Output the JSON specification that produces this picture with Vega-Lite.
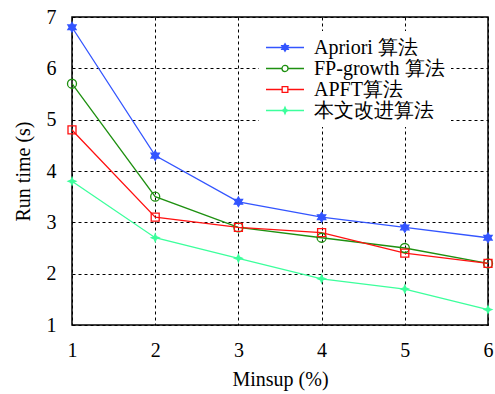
{
  "$schema": "https://vega.github.io/schema/vega-lite/v6.json",
  "width": 416,
  "height": 308,
  "autosize": {"type": "none"},
  "padding": {"left": 72, "top": 17, "right": 7, "bottom": 69},
  "background": "white",
  "config": {
    "font": "Liberation Serif",
    "view": {"stroke": "black", "strokeWidth": 1.5},
    "axis": {
      "grid": true,
      "gridColor": "black",
      "gridOpacity": 1,
      "gridWidth": 1,
      "gridDash": [3, 3],
      "domain": false,
      "ticks": false,
      "labelFont": "Liberation Serif",
      "labelFontSize": 20,
      "labelColor": "black",
      "titleFont": "Liberation Serif",
      "titleFontSize": 20,
      "titleFontWeight": "normal",
      "titleColor": "black"
    }
  },
  "data": {
    "values": [
      {"x": 1, "t": 6.8, "series": "Apriori 算法"},
      {"x": 2, "t": 4.3, "series": "Apriori 算法"},
      {"x": 3, "t": 3.4, "series": "Apriori 算法"},
      {"x": 4, "t": 3.1, "series": "Apriori 算法"},
      {"x": 5, "t": 2.9, "series": "Apriori 算法"},
      {"x": 6, "t": 2.7, "series": "Apriori 算法"},
      {"x": 1, "t": 5.7, "series": "FP-growth 算法"},
      {"x": 2, "t": 3.5, "series": "FP-growth 算法"},
      {"x": 3, "t": 2.9, "series": "FP-growth 算法"},
      {"x": 4, "t": 2.7, "series": "FP-growth 算法"},
      {"x": 5, "t": 2.5, "series": "FP-growth 算法"},
      {"x": 6, "t": 2.2, "series": "FP-growth 算法"},
      {"x": 1, "t": 4.8, "series": "APFT算法"},
      {"x": 2, "t": 3.1, "series": "APFT算法"},
      {"x": 3, "t": 2.9, "series": "APFT算法"},
      {"x": 4, "t": 2.8, "series": "APFT算法"},
      {"x": 5, "t": 2.4, "series": "APFT算法"},
      {"x": 6, "t": 2.2, "series": "APFT算法"},
      {"x": 1, "t": 3.8, "series": "本文改进算法"},
      {"x": 2, "t": 2.7, "series": "本文改进算法"},
      {"x": 3, "t": 2.3, "series": "本文改进算法"},
      {"x": 4, "t": 1.9, "series": "本文改进算法"},
      {"x": 5, "t": 1.7, "series": "本文改进算法"},
      {"x": 6, "t": 1.3, "series": "本文改进算法"}
    ]
  },
  "encoding": {
    "x": {
      "field": "x", "type": "quantitative",
      "scale": {"domain": [1, 6], "nice": false, "zero": false},
      "axis": {"values": [1, 2, 3, 4, 5, 6], "title": "Minsup (%)", "labelPadding": 15, "titlePadding": 9, "labelFlush": false}
    },
    "y": {
      "field": "t", "type": "quantitative",
      "scale": {"domain": [1, 7], "nice": false, "zero": false},
      "axis": {"values": [1, 2, 3, 4, 5, 6, 7], "title": "Run time (s)", "labelPadding": 16, "titlePadding": 13, "labelFlush": false}
    }
  },
  "layer": [
    {
      "mark": {"type": "line", "strokeWidth": 1.3},
      "encoding": {
        "stroke": {
          "field": "series", "type": "nominal", "legend": null,
          "scale": {"domain": ["Apriori 算法", "FP-growth 算法", "APFT算法", "本文改进算法"], "range": ["#3355ff", "#1e9010", "#ff1010", "#3cff9c"]}
        }
      }
    },
    {
      "mark": {"type": "point", "size": 100, "strokeWidth": 1.3, "opacity": 1},
      "encoding": {
        "stroke": {
          "field": "series", "type": "nominal", "legend": null,
          "scale": {"domain": ["Apriori 算法", "FP-growth 算法", "APFT算法", "本文改进算法"], "range": ["#3355ff", "#1e9010", "#ff1010", "#3cff9c"]}
        },
        "fill": {
          "field": "series", "type": "nominal", "legend": null,
          "scale": {"domain": ["Apriori 算法", "FP-growth 算法", "APFT算法", "本文改进算法"], "range": ["#3355ff", "transparent", "transparent", "#3cff9c"]}
        },
        "shape": {
          "field": "series", "type": "nominal", "legend": null,
          "scale": {
            "domain": ["Apriori 算法", "FP-growth 算法", "APFT算法", "本文改进算法"],
            "range": [
              "M0,-0.95L0.274,-0.475L0.823,-0.475L0.548,0L0.823,0.475L0.274,0.475L0,0.95L-0.274,0.475L-0.823,0.475L-0.548,0L-0.823,-0.475L-0.274,-0.475Z",
              "M-0.9,0A0.9,0.9 0 1,0 0.9,0A0.9,0.9 0 1,0 -0.9,0Z",
              "M-0.8,-0.8H0.8V0.8H-0.8Z",
              "M0,-0.75L0.22,-0.22L0.75,0L0.22,0.22L0,0.75L-0.22,0.22L-0.75,0L-0.22,-0.22Z"
            ]
          }
        }
      }
    },
    {
      "transform": [{"filter": "datum.x > 100"}],
      "mark": {"type": "point", "size": 361, "strokeWidth": 1.3, "opacity": 1},
      "encoding": {
        "stroke": {
          "field": "series", "type": "nominal", "title": null,
          "scale": {"domain": ["Apriori 算法", "FP-growth 算法", "APFT算法", "本文改进算法"], "range": ["#3355ff", "#1e9010", "#ff1010", "#3cff9c"]},
          "legend": {
            "orient": "none", "legendX": 187, "legendY": 14,
            "fillColor": "white", "padding": 6, "title": null,
            "labelFont": "Liberation Serif", "labelFontSize": 20, "labelColor": "black",
            "labelOffset": 28, "rowPadding": -3, "symbolStrokeWidth": 1.3, "symbolSize": 361
          }
        },
        "fill": {
          "field": "series", "type": "nominal", "title": null,
          "scale": {"domain": ["Apriori 算法", "FP-growth 算法", "APFT算法", "本文改进算法"], "range": ["#3355ff", "transparent", "transparent", "#3cff9c"]},
          "legend": {
            "orient": "none", "legendX": 187, "legendY": 14,
            "fillColor": "white", "padding": 6, "title": null,
            "labelFont": "Liberation Serif", "labelFontSize": 20, "labelColor": "black",
            "labelOffset": 28, "rowPadding": -3, "symbolStrokeWidth": 1.3, "symbolSize": 361
          }
        },
        "shape": {
          "field": "series", "type": "nominal", "title": null,
          "scale": {
            "domain": ["Apriori 算法", "FP-growth 算法", "APFT算法", "本文改进算法"],
            "range": [
              "M-1,0H3M1,-0.4L1.116,-0.2L1.346,-0.2L1.231,0L1.346,0.2L1.116,0.2L1,0.4L0.884,0.2L0.654,0.2L0.769,0L0.654,-0.2L0.884,-0.2Z",
              "M-1,0H0.68M1.32,0H3M0.68,0A0.32,0.32 0 1,0 1.32,0A0.32,0.32 0 1,0 0.68,0Z",
              "M-1,0H0.7M1.3,0H3M0.7,-0.3H1.3V0.3H0.7Z",
              "M-1,0H3M1,-0.35L1.1,-0.1L1.35,0L1.1,0.1L1,0.35L0.9,0.1L0.65,0L0.9,-0.1Z"
            ]
          },
          "legend": {
            "orient": "none", "legendX": 187, "legendY": 14,
            "fillColor": "white", "padding": 6, "title": null,
            "labelFont": "Liberation Serif", "labelFontSize": 20, "labelColor": "black",
            "labelOffset": 28, "rowPadding": -3, "symbolStrokeWidth": 1.3, "symbolSize": 361
          }
        }
      }
    }
  ],
  "resolve": {"scale": {"stroke": "independent", "fill": "independent", "shape": "independent"}}
}
